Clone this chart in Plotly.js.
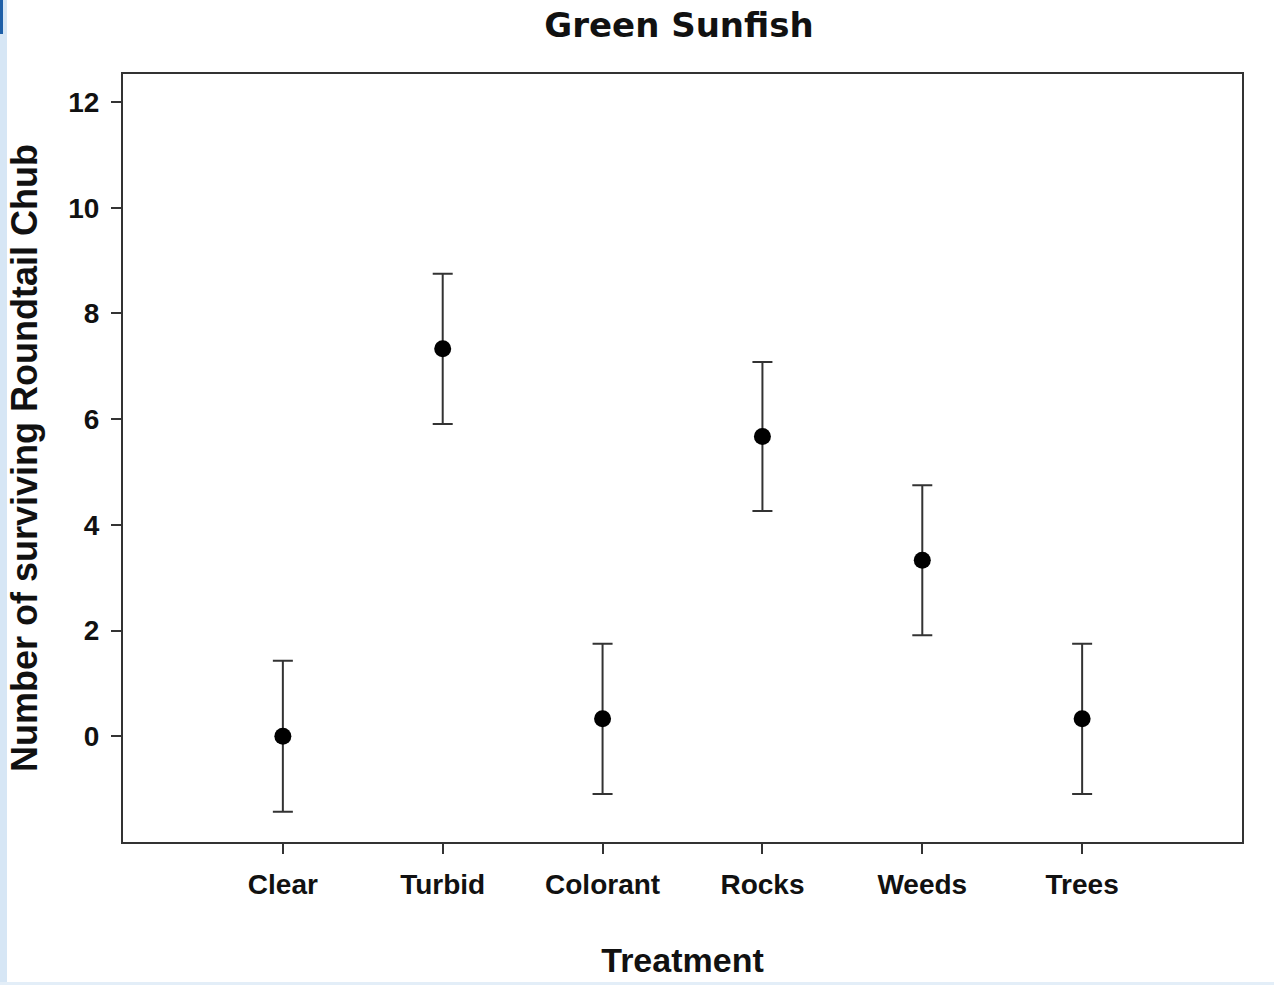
<!DOCTYPE html>
<html>
<head>
<meta charset="utf-8">
<script src="https://cdn.plot.ly/plotly-3.0.1.min.js"></script>
<style>
  html, body { margin: 0; padding: 0; background: #ffffff; }
  #chart { width: 1274px; height: 985px; }
</style>
</head>
<body>
<div id="chart"></div>
<script>
// Treatments and mean surviving Roundtail Chub with error-bar half-widths
const treatments = ["Clear", "Turbid", "Colorant", "Rocks", "Weeds", "Trees"];
const meanSurvivors = [0, 7.33, 0.33, 5.67, 3.33, 0.33];
const errorHalfWidth = [1.43, 1.42, 1.42, 1.41, 1.42, 1.42];
const yTickValues = [0, 2, 4, 6, 8, 10, 12];

const axisColor = "#333333";
const fontFamily = "'Liberation Sans', Arial, sans-serif";
const titleFamily = "'DejaVu Sans', Verdana, sans-serif";

const trace = {
  type: "scatter",
  mode: "markers",
  x: treatments.map((_, i) => i),
  y: meanSurvivors,
  marker: { color: "#000000", size: 17 },
  error_y: {
    type: "data",
    array: errorHalfWidth,
    visible: true,
    color: axisColor,
    thickness: 2,
    width: 10
  },
  hoverinfo: "skip",
  showlegend: false
};

const layout = {
  width: 1274,
  height: 985,
  paper_bgcolor: "#ffffff",
  plot_bgcolor: "#ffffff",
  margin: { l: 123, r: 32, t: 74, b: 143 },
  title: {
    text: "<b>Green Sunfish</b>",
    font: { family: titleFamily, size: 34, color: "#111111" },
    x: 0.533, xanchor: "center",
    y: 0.975, yanchor: "middle"
  },
  xaxis: {
    range: [-1, 6],
    tickmode: "array",
    tickvals: treatments.map((_, i) => i),
    ticktext: treatments.map(t => "<b>" + t + "</b>"),
    ticks: "outside",
    ticklen: 10,
    tickwidth: 2,
    tickcolor: axisColor,
    ticklabelstandoff: 6,
    showline: true,
    linecolor: axisColor,
    linewidth: 2,
    mirror: true,
    showgrid: false,
    zeroline: false,
    tickfont: { family: fontFamily, size: 28, color: "#111111" },
    title: {
      text: "<b>Treatment</b>",
      font: { family: fontFamily, size: 34, color: "#111111" },
      standoff: 50
    }
  },
  yaxis: {
    range: [-2, 12.53],
    tickmode: "array",
    tickvals: yTickValues,
    ticktext: yTickValues.map(v => "<b>" + v + "</b>"),
    ticks: "outside",
    ticklen: 10,
    tickwidth: 2,
    tickcolor: axisColor,
    ticklabelstandoff: 6,
    showline: true,
    linecolor: axisColor,
    linewidth: 2,
    mirror: true,
    showgrid: false,
    zeroline: false,
    tickfont: { family: fontFamily, size: 28, color: "#111111" },
    title: {
      text: "<b>Number of surviving Roundtail Chub</b>",
      font: { family: fontFamily, size: 36, color: "#111111" },
      standoff: 20
    }
  },
  shapes: [
    // light blue frame strip on the left and bottom edges
    { type: "rect", xref: "paper", yref: "paper",
      x0: -123 / 1119, x1: -116 / 1119, y0: -143 / 768, y1: 1 + 74 / 768,
      fillcolor: "#d6e6f5", line: { width: 0 }, layer: "below" },
    { type: "rect", xref: "paper", yref: "paper",
      x0: -123 / 1119, x1: -120 / 1119, y0: 1 + 40 / 768, y1: 1 + 74 / 768,
      fillcolor: "#1d5fa8", line: { width: 0 }, layer: "below" },
    { type: "rect", xref: "paper", yref: "paper",
      x0: -123 / 1119, x1: 1 + 32 / 1119, y0: -143 / 768, y1: -140 / 768,
      fillcolor: "#e3eef8", line: { width: 0 }, layer: "below" }
  ]
};

Plotly.newPlot("chart", [trace], layout, { displayModeBar: false, staticPlot: true });
</script>
</body>
</html>
